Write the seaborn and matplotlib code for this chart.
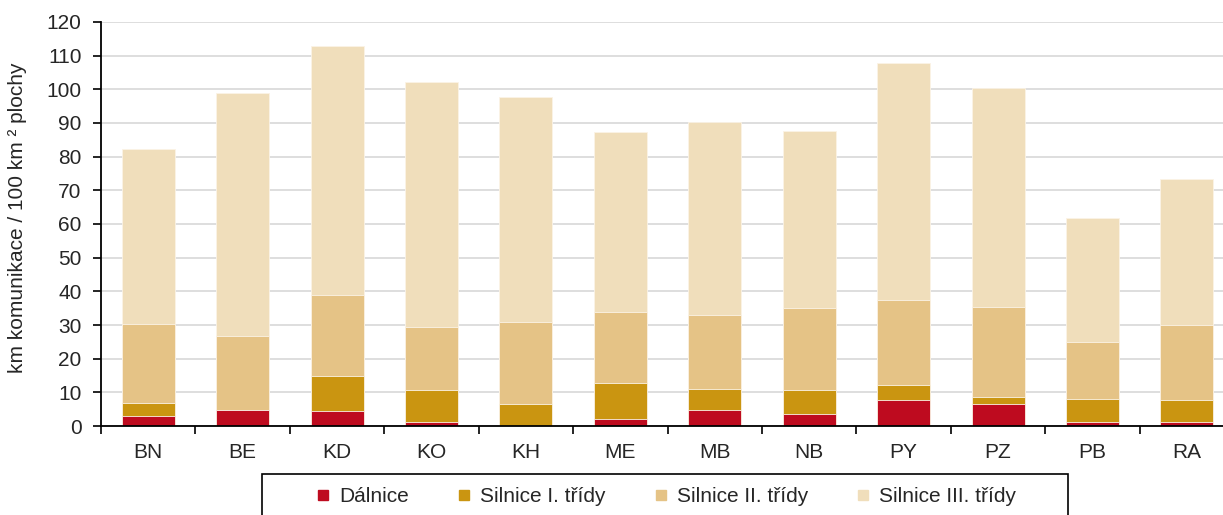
import numpy as np
import pandas as pd
import matplotlib
matplotlib.use("Agg")
import matplotlib.pyplot as plt
from matplotlib.lines import Line2D
from matplotlib.patches import Rectangle
from matplotlib.ticker import FixedLocator
import seaborn as sns

# Road density by district, km of road per 100 km² of area
districts = ["BN", "BE", "KD", "KO", "KH", "ME", "MB", "NB", "PY", "PZ", "PB", "RA"]
dalnice = [3.1, 4.8, 4.4, 1.2, 0.0, 2.2, 4.9, 3.7, 7.6, 6.4, 1.3, 1.2]
silnice_1 = [3.7, 0.0, 10.6, 9.6, 6.4, 10.7, 6.2, 7.0, 4.7, 2.1, 6.8, 6.4]
silnice_2 = [23.6, 21.9, 23.9, 18.5, 24.4, 20.9, 21.8, 24.4, 25.1, 26.7, 16.8, 22.4]
silnice_3 = [52.0, 72.3, 73.9, 73.0, 67.0, 53.6, 57.4, 52.5, 70.4, 65.3, 36.8, 43.4]

series_names = ["Dálnice", "Silnice I. třídy", "Silnice II. třídy", "Silnice III. třídy"]
colors = ["#BE0B1F", "#CA9511", "#E5C386", "#F0DEBB"]

FS = 15

sns.set_theme(style="white")
plt.rcParams["font.family"] = ["Liberation Sans", "DejaVu Sans"]

df = pd.DataFrame({
    "district": districts,
    series_names[0]: dalnice,
    series_names[1]: silnice_1,
    series_names[2]: silnice_2,
    series_names[3]: silnice_3,
})
cum = df[series_names].cumsum(axis=1)

fig = plt.figure(figsize=(12.23, 5.15), dpi=100)
ax = fig.add_axes([0.0826, 0.1728, 0.9265, 0.7845])

# Stacked bars: draw cumulative totals from the top layer down
for name, color in reversed(list(zip(series_names, colors))):
    sns.barplot(x=df["district"], y=cum[name], color=color, width=0.56,
                saturation=1, ax=ax, linewidth=0.6, edgecolor="#FBF3E6", zorder=2)

ax.set_ylim(0, 120)
ax.set_xlim(-0.5, len(districts) - 0.5)
ax.set_yticks(np.arange(0, 121, 10))
ax.yaxis.grid(True, color="#D4D4D4", linewidth=1.1, zorder=0)
ax.set_axisbelow(True)

for s in ["top", "right"]:
    ax.spines[s].set_visible(False)
for s in ["left", "bottom"]:
    ax.spines[s].set_color("black")
    ax.spines[s].set_linewidth(1.3)

ax.tick_params(axis="y", which="major", direction="out", length=6, width=1.2,
               color="black", labelsize=FS, pad=8, left=True)
ax.tick_params(axis="x", which="major", length=0, labelsize=FS, pad=12)
ax.xaxis.set_minor_locator(FixedLocator(np.arange(-0.5, len(districts), 1.0)))
ax.tick_params(axis="x", which="minor", direction="out", length=6, width=1.2,
               color="black", bottom=True)

ax.set_xlabel("")
ax.set_ylabel("km komunikace / 100 km ² plochy", fontsize=FS)
ax.yaxis.set_label_coords(-0.0655, 0.515)

# Legend row with a square frame running off the bottom edge
handles = [Line2D([0], [0], marker="s", linestyle="none", markersize=7.5,
                  markerfacecolor=c, markeredgecolor=c) for c in colors]
leg = fig.legend(handles, series_names, loc="center", ncol=4,
                 bbox_to_anchor=(0.5445, 0.035), frameon=False,
                 fontsize=FS, handlelength=0.7, handletextpad=0.42,
                 columnspacing=2.3, borderpad=0, borderaxespad=0)
fig.add_artist(Rectangle((262 / 1223, -0.05), (1068 - 262) / 1223, 0.05 + 41 / 515,
                         transform=fig.transFigure, facecolor="none",
                         edgecolor="black", linewidth=1.2, clip_on=False))

fig.savefig("out.png", dpi=100)
